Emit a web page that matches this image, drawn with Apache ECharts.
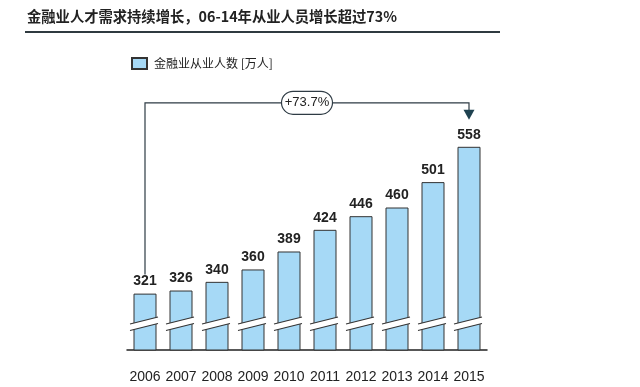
<!DOCTYPE html>
<html>
<head>
<meta charset="utf-8">
<script src="https://cdn.jsdelivr.net/npm/echarts@6/dist/echarts.min.js"></script>
<style>
html,body{margin:0;padding:0;background:#fff;}
#c{width:640px;height:387px;}
</style>
</head>
<body>
<div id="c"></div>
<script>
const titleText = '金融业人才需求持续增长，06-14年从业人员增长超过73%';
const seriesName = '金融业从业人数 [万人]';
const years = ['2006','2007','2008','2009','2010','2011','2012','2013','2014','2015'];
const values = [321, 326, 340, 360, 389, 424, 446, 460, 501, 558];
const growthLabel = '+73.7%';
const breakValue = 272;      // axis value where the break mark sits
const bracketValue = 629;    // axis value of the bracket's horizontal line

const chart = echarts.init(document.getElementById('c'), null, {renderer: 'canvas'});
const dark = '#2e3b44';
const numFont = '"Liberation Sans Narrow","Liberation Sans",Arial,sans-serif';

chart.setOption({
  animation: false,
  backgroundColor: '#fff',
  graphic: [
    {type: 'text', left: 27, top: 9, style: {text: titleText, font: 'bold 14.3px "Noto Sans CJK SC", sans-serif', fill: '#222'}},
    {type: 'line', shape: {x1: 25, y1: 32, x2: 500, y2: 32}, style: {stroke: '#2f3a40', lineWidth: 2.2}}
  ],
  legend: {
    data: [seriesName],
    left: 126, top: 52,
    icon: 'rect', itemWidth: 15, itemHeight: 11, itemGap: 6,
    textStyle: {fontSize: 12, color: '#222', fontFamily: '"Noto Sans CJK SC", sans-serif', padding: [0,0,0,2]}
  },
  grid: {left: 127, right: 153, top: 96, bottom: 37},
  xAxis: {
    type: 'category', data: years,
    axisLine: {lineStyle: {color: '#222', width: 1.5}},
    axisTick: {show: false},
    axisLabel: {interval: 0, fontSize: 14, color: '#222', margin: 20, fontFamily: numFont}
  },
  yAxis: {type: 'value', min: 230, max: 640, show: false, splitLine: {show: false}},
  series: [
    {
      name: seriesName, type: 'bar', data: values, barWidth: 23,
      itemStyle: {color: '#a6d9f6', borderColor: '#333', borderWidth: 1},
      label: {show: true, position: 'top', distance: 5, fontSize: 14, fontWeight: 'bold', color: '#222', fontFamily: numFont}
    },
    {
      type: 'custom', name: 'breaks', clip: false, z: 5,
      data: years.map((y, i) => [i, breakValue]),
      renderItem: function (params, api) {
        const p = api.coord([api.value(0), api.value(1)]);
        const cx = p[0], cy = p[1];
        const l = cx - 15, r = cx + 13;
        return {
          type: 'group', children: [
            {type: 'polygon', shape: {points: [[l, cy], [r, cy - 7], [r, cy - 0.5], [l, cy + 6.5]]}, style: {fill: '#fff'}},
            {type: 'line', shape: {x1: l, y1: cy, x2: r, y2: cy - 7}, style: {stroke: '#333', lineWidth: 1.2}},
            {type: 'line', shape: {x1: l, y1: cy + 6.5, x2: r, y2: cy - 0.5}, style: {stroke: '#333', lineWidth: 1.2}}
          ]
        };
      }
    },
    {
      type: 'custom', name: 'bracket', clip: false, z: 6,
      data: [[0, years.length - 1]],
      renderItem: function (params, api) {
        const i0 = api.value(0), i1 = api.value(1);
        const a = api.coord([i0, values[i0]]);
        const b = api.coord([i1, values[i1]]);
        const yl = api.coord([i0, bracketValue])[1];
        const mx = (a[0] + b[0]) / 2;
        return {
          type: 'group', children: [
            {type: 'polyline', shape: {points: [[a[0], a[1] - 19], [a[0], yl], [b[0], yl], [b[0], b[1] - 36]]}, style: {stroke: dark, lineWidth: 1.2, fill: null}},
            {type: 'polygon', shape: {points: [[b[0] - 5.5, b[1] - 37], [b[0] + 5.5, b[1] - 37], [b[0], b[1] - 27]]}, style: {fill: '#1f4250'}},
            {type: 'rect', shape: {x: mx - 25.5, y: yl - 11.5, width: 51, height: 23, r: 11.5}, style: {fill: '#fff', stroke: dark, lineWidth: 1.2}},
            {type: 'text', x: mx, y: yl, style: {text: growthLabel, align: 'center', verticalAlign: 'middle', font: '13px "Liberation Sans Narrow","Liberation Sans",Arial,sans-serif', fill: '#222'}}
          ]
        };
      }
    }
  ]
});
</script>
</body>
</html>
